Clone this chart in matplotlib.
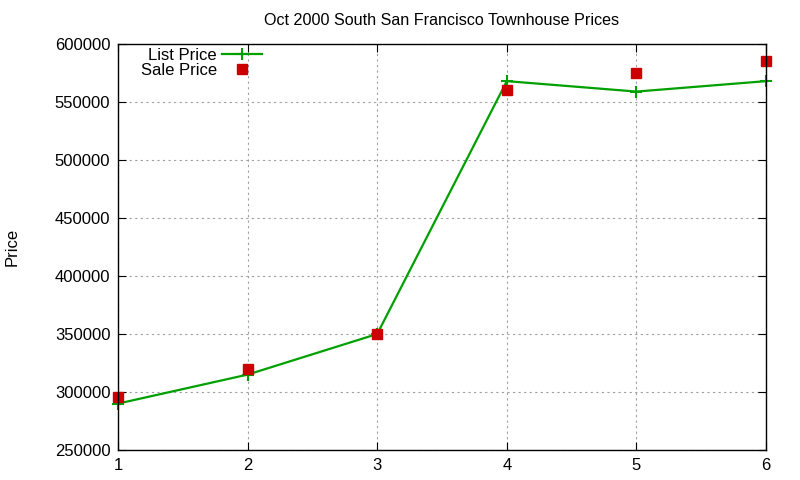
import matplotlib.pyplot as plt

plt.rcParams['font.family'] = ['Liberation Sans', 'DejaVu Sans']

# Townhouse data, Oct 2000
house = [1, 2, 3, 4, 5, 6]
list_price = [290000, 315000, 350000, 568000, 559000, 568000]
sale_price = [296000, 320000, 350000, 560000, 575000, 585000]

fig = plt.figure(figsize=(8, 4.8), dpi=100)
ax = fig.add_axes([0.1475, 0.0625, 0.81, 0.8458])

ax.plot(house, list_price, color='#00a000', linewidth=1.6, marker='+',
        markersize=9, markeredgewidth=1.5, label='List Price', clip_on=False)
ax.plot(house, sale_price, linestyle='none', color='#cc0000', marker='s',
        markersize=6.5, label='Sale Price', clip_on=False)

ax.set_xlim(1, 6)
ax.set_ylim(250000, 600000)
ax.set_xticks(house)
ax.set_yticks(range(250000, 600001, 50000))
ax.tick_params(direction='in', top=True, right=True, labelsize=12, length=6, pad=5.5)
ax.grid(True, linestyle=(0, (2, 3)), color='#a0a0a0', linewidth=0.8)
for s in ax.spines.values():
    s.set_linewidth(1.0)

ax.set_title('Oct 2000 South San Francisco Townhouse Prices', fontsize=11.6, pad=14)
ax.set_ylabel('Price', fontsize=12)
ax.yaxis.set_label_coords(-0.152, 0.5)

ax.legend(loc='upper left', frameon=False, markerfirst=False, fontsize=12,
          handlelength=2.4, handletextpad=0.3, borderaxespad=0.2,
          labelspacing=0.0, bbox_to_anchor=(0.02, 1.015))

fig.savefig('out.png')
